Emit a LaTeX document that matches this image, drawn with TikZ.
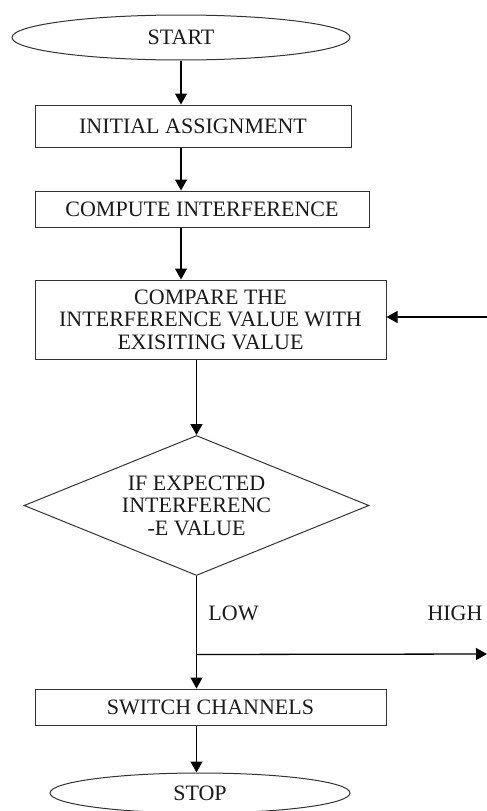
\documentclass[tikz,border=0pt]{standalone}
\usepackage{fontspec}
\setmainfont{Liberation Serif}
\usetikzlibrary{shapes.geometric,calc,arrows.meta}
\definecolor{linecol}{HTML}{333333}
\definecolor{txtcol}{HTML}{1A1A1A}
\newcommand{\flowfont}{\fontsize{22}{22.5}\selectfont}
\tikzset{
  procbox/.style={draw=linecol,line width=1pt,minimum height=36pt,inner sep=0pt,font=\flowfont,text=txtcol},
  termbox/.style={ellipse,draw=linecol,line width=1pt,inner sep=0pt,font=\flowfont,text=txtcol},
  flowarr/.style={draw=black,line width=1.3pt,-{Triangle[width=12pt,length=11pt]}},
}

\begin{document}
\begin{tikzpicture}[x=1pt,y=-1pt]
  \useasboundingbox (0,0) rectangle (487,811);
  \node[termbox,minimum width=338pt,minimum height=45pt] (start) at (181,37.5) {START};
  \node[procbox,minimum width=316pt,minimum height=42pt] (init) at (193,126) {INITIAL ASSIGNMENT};
  \node[procbox,minimum width=334pt] (comp) at (202,209) {COMPUTE INTERFERENCE};
  \node[procbox,minimum width=351pt,minimum height=79pt,align=center] (cmp) at (210.5,319.5)
    {COMPARE THE\\INTERFERENCE VALUE WITH\\EXISITING VALUE};
  \node[diamond,aspect=2.46,draw=linecol,line width=1pt,inner sep=0pt,minimum width=345pt,
    minimum height=140pt,align=center,font=\flowfont,text=txtcol] (dec) at (196.5,505.5)
    {IF EXPECTED\\INTERFERENC\\-E VALUE};
  \node[procbox,minimum width=351pt] (sw) at (210.5,707) {SWITCH CHANNELS};
  \node[termbox,minimum width=300pt,minimum height=40pt] (stop) at (200,793) {STOP};
  \node[font=\flowfont,text=txtcol] (low) at (233.5,613) {LOW};
  \node[font=\flowfont,text=txtcol] (high) at (455,613) {HIGH};
  \coordinate (br) at ($(dec.south)+(0,78.5)$);
  \coordinate (hi) at (487,654);
  \coordinate (fb) at (487,317);
  \draw[flowarr] (start.south) -- (start.south |- init.north);
  \draw[flowarr] (start.south |- init.south) -- (start.south |- comp.north);
  \draw[flowarr] (start.south |- comp.south) -- (start.south |- cmp.north);
  \draw[flowarr] (dec.north |- cmp.south) -- (dec.north);
  \draw[flowarr] (dec.south) -- (dec.south |- sw.north);
  \draw[flowarr] (br) -- (hi);
  \draw[flowarr] (fb) -- (fb -| cmp.east);
  \draw[flowarr] (dec.south |- sw.south) -- (dec.south |- stop.north);
\end{tikzpicture}
\end{document}
